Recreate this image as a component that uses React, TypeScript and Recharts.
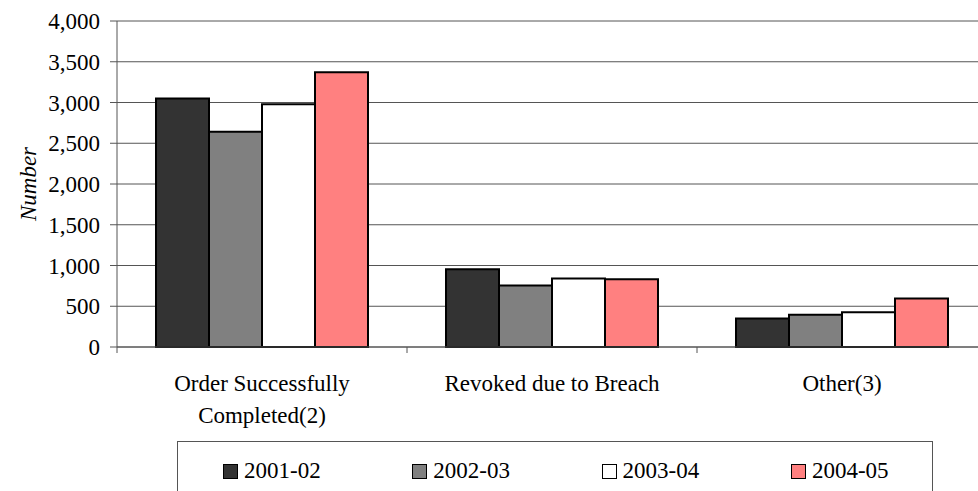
import { Bar, BarChart, CartesianGrid, XAxis, YAxis } from "recharts";

const categories = ["Order Successfully\nCompleted(2)", "Revoked due to Breach", "Other(3)"];
const seriesNames = ["2001-02", "2002-03", "2003-04", "2004-05"];
const values2001 = [3050, 955, 350];
const values2002 = [2640, 755, 395];
const values2003 = [2980, 840, 425];
const values2004 = [3370, 830, 595];
const yTicks = [0, 500, 1000, 1500, 2000, 2500, 3000, 3500, 4000];

const colors = ["#333333", "#808080", "#ffffff", "#ff8080"];
const seriesValues = [values2001, values2002, values2003, values2004];
const keys = ["s0", "s1", "s2", "s3"];

const data = categories.map((name, i) => {
  const row: Record<string, string | number> = { name };
  keys.forEach((k, j) => (row[k] = seriesValues[j][i]));
  return row;
});

const FONT =
  '"Liberation Serif", "Times New Roman", Times, "DejaVu Serif", "Noto Serif", "Nimbus Roman", FreeSerif, serif';
const AXIS = "#555555";
const CHART_W = 990;
const CHART_H = 491;
const Y_AXIS_W = 117;
const MARGIN = { top: 21, right: 3, bottom: 84, left: 0 };
const BAND = (CHART_W - Y_AXIS_W - MARGIN.right - MARGIN.left) / categories.length;

function CategoryTick(props: any) {
  const { x, y, payload } = props;
  const lines = String(payload.value).split("\n");
  const left = x - BAND / 2;
  return (
    <g>
      <line x1={left} x2={left} y1={y} y2={y + 6} stroke={AXIS} strokeWidth={1} />
      <text x={x} y={y} textAnchor="middle" style={{ fontFamily: FONT }} fontSize={23} fill="#000">
        {lines.map((l, i) => (
          <tspan key={i} x={x} y={y + 44 + i * 32}>
            {l}
          </tspan>
        ))}
      </text>
    </g>
  );
}

function YTitle(props: any) {
  const vb = props.viewBox || { x: 0, y: 0, height: 0 };
  const cx = vb.x + 28;
  const cy = vb.y + vb.height / 2;
  return (
    <text
      x={cx}
      y={cy}
      transform={`rotate(-90, ${cx}, ${cy})`}
      textAnchor="middle"
      dominantBaseline="central"
      style={{ fontFamily: FONT, fontStyle: "italic" }}
      fontSize={23}
      fill="#000"
    >
      Number
    </text>
  );
}

export default function App() {
  return (
    <div
      style={{
        position: "fixed",
        left: 0,
        top: 0,
        width: 978,
        height: 491,
        overflow: "hidden",
        background: "#fff",
        fontFamily: FONT,
      }}
    >
      <BarChart
        width={CHART_W}
        height={CHART_H}
        data={data}
        margin={MARGIN}
        barCategoryGap={39}
        barGap={0}
        style={{ fontFamily: FONT }}
      >
        <CartesianGrid vertical={false} stroke={AXIS} strokeWidth={1} />
        <XAxis
          dataKey="name"
          interval={0}
          height={60}
          tickLine={false}
          tickSize={0}
          tickMargin={0}
          axisLine={{ stroke: AXIS }}
          tick={<CategoryTick />}
        />
        <YAxis
          width={Y_AXIS_W}
          domain={[0, 4000]}
          ticks={yTicks}
          interval={0}
          tickSize={7}
          tickMargin={10}
          axisLine={{ stroke: AXIS }}
          tickLine={{ stroke: AXIS }}
          tick={{ fontSize: 23, fill: "#000", style: { fontFamily: FONT } }}
          tickFormatter={(v: number) => v.toLocaleString("en-US")}
          label={<YTitle />}
        />
        {keys.map((k, i) => (
          <Bar
            key={k}
            dataKey={k}
            name={seriesNames[i]}
            fill={colors[i]}
            stroke="#000"
            strokeWidth={2}
            isAnimationActive={false}
          />
        ))}
      </BarChart>
      <div
        style={{
          position: "absolute",
          left: 177,
          top: 441,
          width: 756,
          height: 70,
          border: `1px solid ${AXIS}`,
          boxSizing: "border-box",
          fontSize: 23,
          lineHeight: "26px",
          color: "#000",
        }}
      >
        {seriesNames.map((n, i) => (
          <div
            key={n}
            style={{
              position: "absolute",
              left: 45 + i * 189.3,
              top: 16,
              height: 26,
              display: "flex",
              alignItems: "center",
              whiteSpace: "nowrap",
            }}
          >
            <span
              style={{
                display: "inline-block",
                width: 13,
                height: 13,
                background: colors[i],
                border: "1.5px solid #000",
                marginRight: 6,
              }}
            />
            <span>{n}</span>
          </div>
        ))}
      </div>
    </div>
  );
}
